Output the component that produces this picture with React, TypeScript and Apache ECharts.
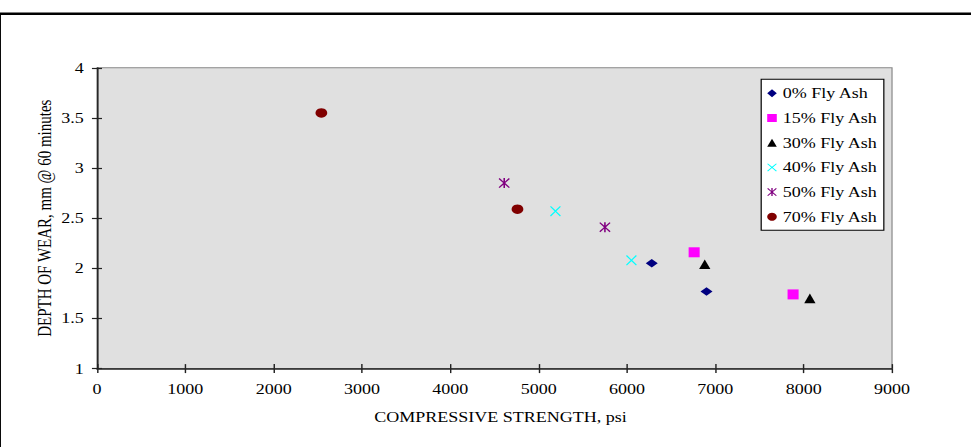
import React, { useEffect, useRef } from "react";
import * as echarts from "echarts";

const seriesNames = ["0% Fly Ash", "15% Fly Ash", "30% Fly Ash", "40% Fly Ash", "50% Fly Ash", "70% Fly Ash"];
const flyAsh0 = [[6280, 2.05], [6900, 1.77]];
const flyAsh15 = [[6760, 2.16], [7880, 1.74]];
const flyAsh30 = [[6880, 2.04], [8070, 1.70]];
const flyAsh40 = [[5190, 2.57], [6050, 2.08]];
const flyAsh50 = [[4610, 2.85], [5750, 2.41]];
const flyAsh70 = [[2540, 3.55], [4760, 2.59]];
const xTicks = { min: 0, max: 9000, interval: 1000 };
const yTicks = { min: 1, max: 4, interval: 0.5 };

const X_PATH = "path://M0,0.8 L0.8,0 L5,4.2 L9.2,0 L10,0.8 L5.8,5 L10,9.2 L9.2,10 L5,5.8 L0.8,10 L0,9.2 L4.2,5 Z";
const STAR_PATH = "path://M0,0.9 L0.9,0 L5,4.1 L9.1,0 L10,0.9 L5.9,5 L10,9.1 L9.1,10 L5,5.9 L0.9,10 L0,9.1 L4.1,5 Z M4.3,0 L5.7,0 L5.7,10 L4.3,10 Z";

const S = 971 / 809;
const FONT = "'Liberation Serif', 'Times New Roman', serif";

export default function App() {
  const ref = useRef<HTMLDivElement>(null);
  useEffect(() => {
    if (!ref.current) return;
    const chart = echarts.init(ref.current, undefined, { renderer: "svg" });
    const datasets = [flyAsh0, flyAsh15, flyAsh30, flyAsh40, flyAsh50, flyAsh70];
    const symbols = ["diamond", "rect", "triangle", X_PATH, STAR_PATH, "circle"];
    const sizes: any[] = [[10, 8.5], [9.2, 10], [9.4, 9.6], [9, 10.5], [9.4, 10], [9.8, 9.5]];
    const colors = ["#000080", "#ff00ff", "#000000", "#00ffff", "#800080", "#800000"];
    const series = datasets.map((d, i) => ({
      type: "scatter",
      name: seriesNames[i],
      data: d,
      symbol: symbols[i],
      symbolSize: sizes[i],
      itemStyle: { color: colors[i], opacity: 1 },
      xAxisIndex: 0,
      yAxisIndex: 0,
    }));
    chart.setOption({
      animation: false,
      textStyle: { fontFamily: FONT },
      grid: {
        left: 80.8,
        right: 809 - 743.2,
        top: 67.8,
        height: 300.8,
        show: true,
        backgroundColor: "#e0e0e0",
        borderColor: "#888888",
        borderWidth: 1,
      },
      graphic: [
        {
          type: "rect",
          shape: { x: -0.5, y: 13.8, width: 840, height: 460 },
          style: { fill: "none", stroke: "#000", lineWidth: 2.6 },
          silent: true,
          z: 100,
        },
      ],
      legend: {
        orient: "vertical",
        left: 634.2,
        top: 79.3,
        width: 102.5,
        padding: [6.5, 5, 6, 5],
        itemWidth: 8,
        itemHeight: 8,
        itemGap: 9.7,
        itemTextGap: 5,
        backgroundColor: "#ffffff",
        borderColor: "#000000",
        borderWidth: 1,
        borderRadius: 0,
        textStyle: { fontFamily: FONT, fontSize: 15, color: "#000", lineHeight: 15 },
        data: seriesNames,
      },
      xAxis: [
        {
          type: "value",
          ...xTicks,
          name: "COMPRESSIVE STRENGTH, psi",
          nameLocation: "middle",
          nameGap: 41,
          nameMoveOverlap: false,
          nameTextStyle: { fontFamily: FONT, fontSize: 15, color: "#000", padding: [0, 0, 0, 10] },
          axisLine: { show: true, lineStyle: { color: "#222", width: 1.5 } },
          axisTick: { show: true, inside: false, length: 4.5, lineStyle: { color: "#222", width: 1.2 } },
          axisLabel: { fontFamily: FONT, fontSize: 15, color: "#000", margin: 13, formatter: (v: number) => String(v) },
          splitLine: { show: false },
        },
        {
          type: "value",
          ...xTicks,
          position: "bottom",
          axisLine: { show: false },
          axisTick: { show: true, inside: true, length: 4.5, lineStyle: { color: "#222", width: 1.2 } },
          axisLabel: { show: false },
          splitLine: { show: false },
        },
      ],
      yAxis: [
        {
          type: "value",
          ...yTicks,
          name: "DEPTH OF WEAR, mm @ 60 minutes",
          nameLocation: "middle",
          nameGap: 35.5,
          nameMoveOverlap: false,
          nameTextStyle: { fontFamily: FONT, fontSize: 15, color: "#000" },
          axisLine: { show: true, lineStyle: { color: "#222", width: 1.3 } },
          axisTick: { show: true, inside: false, length: 4.2, lineStyle: { color: "#222", width: 1.2 } },
          axisLabel: { fontFamily: FONT, fontSize: 15, color: "#000", margin: 11, formatter: (v: number) => String(v) },
          splitLine: { show: false },
        },
        {
          type: "value",
          ...yTicks,
          position: "left",
          axisLine: { show: false },
          axisTick: { show: true, inside: true, length: 4.2, lineStyle: { color: "#222", width: 1.2 } },
          axisLabel: { show: false },
          splitLine: { show: false },
        },
      ],
      series,
    });
    return () => chart.dispose();
  }, []);
  return (
    <div
      ref={ref}
      style={{
        position: "absolute",
        left: 0,
        top: 0,
        width: 809,
        height: 447,
        transform: `scaleX(${S})`,
        transformOrigin: "0 0",
        background: "#fff",
      }}
    />
  );
}
